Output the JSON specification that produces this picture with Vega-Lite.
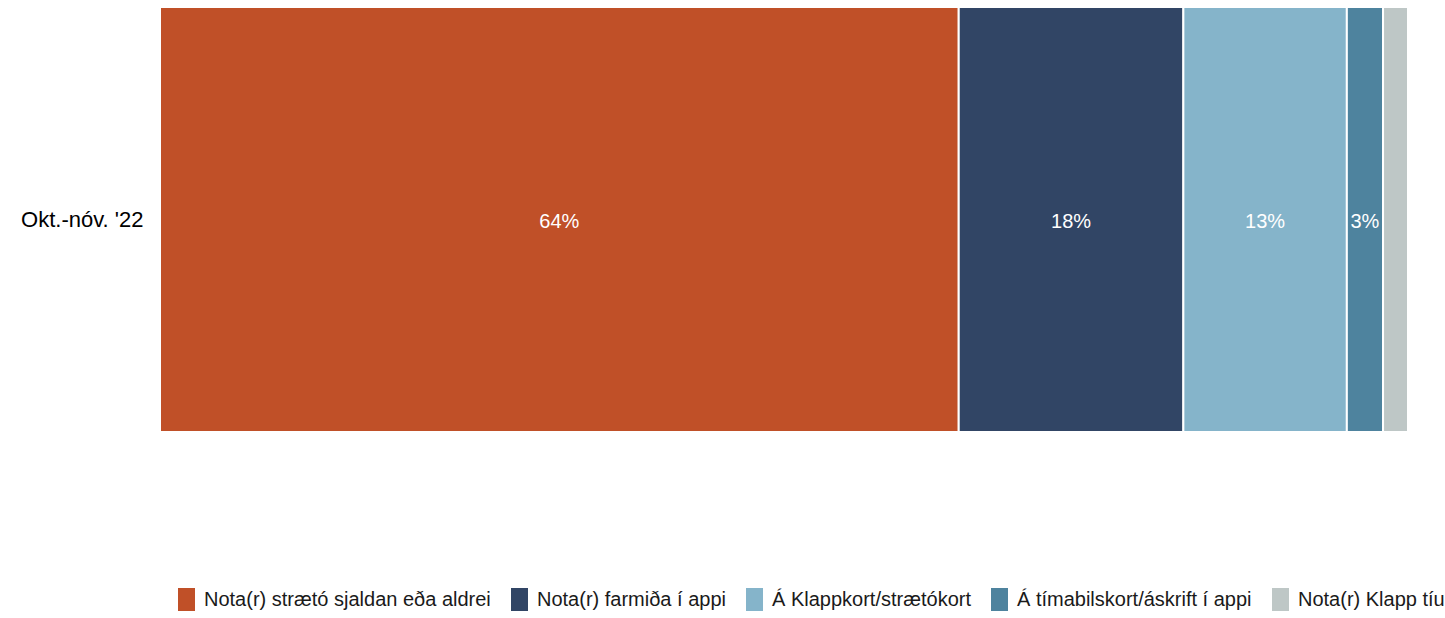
{
  "$schema": "https://vega.github.io/schema/vega-lite/v6.json",
  "autosize": {"type": "none"},
  "width": 1248,
  "height": 425,
  "padding": {"left": 160, "top": 7, "right": 37, "bottom": 186},
  "config": {
    "view": {"stroke": null},
    "font": "Liberation Sans"
  },
  "data": {
    "values": [
      {"period": "Okt.-nóv. '22", "category": "Nota(r) strætó sjaldan eða aldrei", "rank": 1, "value": 0.640},
      {"period": "Okt.-nóv. '22", "category": "Nota(r) farmiða í appi", "rank": 2, "value": 0.180},
      {"period": "Okt.-nóv. '22", "category": "Á Klappkort/strætókort", "rank": 3, "value": 0.131},
      {"period": "Okt.-nóv. '22", "category": "Á tímabilskort/áskrift í appi", "rank": 4, "value": 0.029},
      {"period": "Okt.-nóv. '22", "category": "Nota(r) Klapp tíu", "rank": 5, "value": 0.020}
    ]
  },
  "transform": [
    {"stack": "value", "groupby": ["period"], "sort": [{"field": "rank", "order": "ascending"}], "as": ["v0", "v1"]},
    {"calculate": "(datum.v0 + datum.v1) / 2", "as": "mid"}
  ],
  "encoding": {
    "y": {
      "field": "period",
      "type": "nominal",
      "title": null,
      "scale": {"paddingInner": 0, "paddingOuter": 0},
      "axis": {"ticks": false, "domain": false, "labelFontSize": 22, "labelColor": "#000000", "labelPadding": 17, "labelFont": "Liberation Sans"}
    }
  },
  "layer": [
    {
      "mark": {"type": "bar", "stroke": "#ffffff", "strokeWidth": 2},
      "encoding": {
        "x": {"field": "v0", "type": "quantitative", "scale": {"domain": [0, 1], "nice": false, "zero": true}, "axis": null},
        "x2": {"field": "v1"},
        "color": {
          "field": "category",
          "type": "nominal",
          "sort": ["Nota(r) strætó sjaldan eða aldrei", "Nota(r) farmiða í appi", "Á Klappkort/strætókort", "Á tímabilskort/áskrift í appi", "Nota(r) Klapp tíu"],
          "scale": {
            "domain": ["Nota(r) strætó sjaldan eða aldrei", "Nota(r) farmiða í appi", "Á Klappkort/strætókort", "Á tímabilskort/áskrift í appi", "Nota(r) Klapp tíu"],
            "range": ["#C05028", "#314565", "#85B4CA", "#4E839E", "#BEC7C6"]
          },
          "legend": {
            "title": null,
            "orient": "none",
            "direction": "horizontal",
            "legendX": 15,
            "legendY": 581,
            "columns": 5,
            "columnPadding": 17,
            "symbolType": "M-0.74,-1H0.74V1H-0.74Z",
            "symbolSize": 529,
            "symbolStrokeWidth": 0,
            "symbolOpacity": 1,
            "labelFontSize": 20,
            "labelColor": "#1a1a1a",
            "labelFont": "Liberation Sans",
            "labelOffset": 6,
            "labelLimit": 500
          }
        }
      }
    },
    {
      "transform": [{"filter": "datum.value >= 0.025"}],
      "mark": {"type": "text", "color": "#ffffff", "fontSize": 20, "font": "Liberation Sans", "dy": 2},
      "encoding": {
        "x": {"field": "mid", "type": "quantitative"},
        "text": {"field": "value", "type": "quantitative", "format": ".0%"}
      }
    }
  ]
}
